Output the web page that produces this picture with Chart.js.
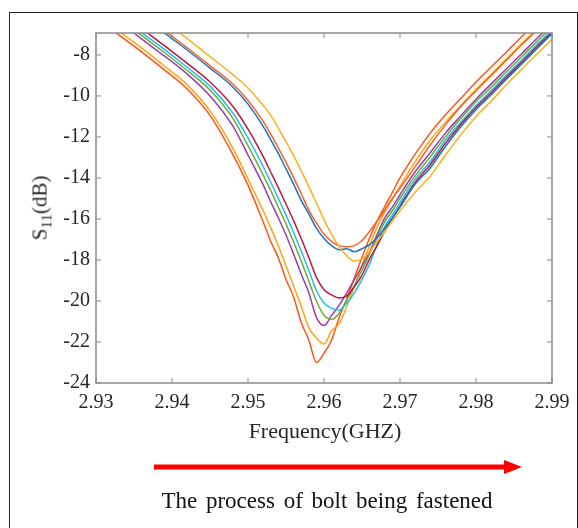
<!DOCTYPE html>
<html>
<head>
<meta charset="utf-8">
<script src="https://cdn.jsdelivr.net/npm/chart.js@4.4.0/dist/chart.umd.min.js"></script>
<style>
  body { margin:0; background:#fff; overflow:hidden; }
  #wrap { position:relative; width:578px; height:528px; overflow:hidden; }
  #frame { position:absolute; left:9px; top:12px; width:567px; height:560px; border:1px solid #222; }
  #chartCanvas { position:absolute; left:0; top:0; }
  .serif { position:absolute; white-space:nowrap; font-family:"Liberation Serif","Times New Roman",serif; color:#262626; }
  #ytitle { left:40px; top:208px; font-size:21px; line-height:21px; transform:translate(-50%,-50%) rotate(-90deg); }
  #ytitle sub { font-size:15px; vertical-align:-5px; line-height:0; }
  #xtitle { left:325px; top:420px; font-size:22px; line-height:22px; transform:translateX(-50%); }
  #caption { left:327px; top:489px; font-size:23px; line-height:23px; word-spacing:3px; color:#111; transform:translateX(-50%); }
  #arrow { position:absolute; left:0; top:0; }
</style>
</head>
<body>
<div id="wrap">
  <div id="frame"></div>
  <canvas id="chartCanvas" width="578" height="528"></canvas>
  <div id="ytitle" class="serif">S<sub>11</sub>(dB)</div>
  <div id="xtitle" class="serif">Frequency(GHZ)</div>
  <svg id="arrow" width="578" height="528">
    <line x1="154" y1="467" x2="507" y2="467" stroke="#ff0000" stroke-width="5"/>
    <polygon points="504,460 522,467 504,474" fill="#ff0000"/>
  </svg>
  <div id="caption" class="serif">The process of bolt being fastened</div>
</div>
<script>
// frekvenser (GHz) - tættere punkter omkring resonansen
const freq = [2.930, 2.933, 2.936, 2.939, 2.942, 2.945, 2.948, 2.950,
  2.952, 2.953, 2.954, 2.955, 2.956, 2.957, 2.958, 2.959, 2.960, 2.961, 2.962,
  2.963, 2.964, 2.965, 2.966, 2.967, 2.968, 2.969, 2.970,
  2.972, 2.974, 2.976, 2.978, 2.980, 2.982, 2.984, 2.986, 2.988, 2.990, 2.992]

const xTicks = [2.93, 2.94, 2.95, 2.96, 2.97, 2.98, 2.99]
const yTicks = [-24, -22, -20, -18, -16, -14, -12, -10, -8]

// S11 (dB) for hver måling
const shallowYellow = [-3.55, -4.5, -5.45, -6.35, -7.2, -8.08, -8.96, -9.61,
  -10.47, -10.95, -11.58, -12.24, -12.9, -13.66, -14.42, -15.22, -16.03, -16.75, -17.35,
  -17.8, -18.05, -17.95, -17.6, -17.1, -16.6, -16.1, -15.6,
  -14.7, -13.9, -12.88, -11.9, -11.0, -10.25, -9.45, -8.7, -7.97, -7.24, -6.55]
const shallowOrange = [-4.0, -4.98, -5.88, -6.81, -7.65, -8.52, -9.42, -10.22,
  -11.24, -11.88, -12.54, -13.24, -13.98, -14.77, -15.57, -16.2, -16.75, -17.1, -17.3,
  -17.35, -17.3, -17.05, -16.6, -16.1, -15.55, -15.0, -14.5,
  -13.45, -12.38, -11.4, -10.52, -9.75, -9.0, -8.25, -7.5, -6.8, -6.1, -5.4]
const blue = [-4.15, -5.1, -6.0, -6.93, -7.76, -8.64, -9.56, -10.4,
  -11.48, -12.14, -12.81, -13.55, -14.3, -15.09, -15.75, -16.45, -16.95, -17.3, -17.5,
  -17.45, -17.6, -17.45, -17.25, -16.9, -16.45, -15.95, -15.42,
  -14.3, -13.5, -12.45, -11.5, -10.67, -9.94, -9.18, -8.45, -7.7, -6.96, -6.25]
const crimson = [-4.85, -5.77, -6.7, -7.55, -8.41, -9.32, -10.5, -11.62,
  -12.96, -13.72, -14.48, -15.27, -16.08, -16.95, -17.88, -18.85, -19.45, -19.7, -19.85,
  -19.75, -19.3, -18.75, -17.95, -17.3, -16.58, -15.97, -15.37,
  -14.22, -13.34, -12.3, -11.38, -10.56, -9.84, -9.08, -8.35, -7.6, -6.9, -6.2]
const cyan = [-5.05, -5.97, -6.9, -7.73, -8.6, -9.52, -10.83, -12.05,
  -13.44, -14.22, -15.0, -15.81, -16.66, -17.56, -18.5, -19.49, -20.1, -20.35, -20.45,
  -20.1, -19.6, -18.95, -18.2, -17.22, -16.36, -15.8, -15.2,
  -14.07, -13.2, -12.15, -11.28, -10.47, -9.73, -8.98, -8.25, -7.5, -6.8, -6.1]
const green = [-5.2, -6.13, -7.05, -7.88, -8.76, -9.71, -11.09, -12.42,
  -13.86, -14.62, -15.43, -16.24, -17.12, -18.05, -19.03, -20.0, -20.7, -20.9, -20.6,
  -19.95, -19.25, -18.5, -17.7, -16.9, -16.13, -15.6, -15.0,
  -13.9, -12.96, -11.98, -11.1, -10.28, -9.57, -8.82, -8.09, -7.35, -6.66, -5.95]
const purple = [-5.3, -6.3, -7.22, -8.05, -8.93, -10.0, -11.46, -12.88,
  -14.34, -15.17, -15.95, -16.78, -17.71, -18.68, -19.6, -20.8, -21.2, -20.7, -20.2,
  -19.6, -18.95, -18.3, -17.6, -16.75, -15.95, -15.42, -14.82,
  -13.7, -12.76, -11.8, -10.97, -10.16, -9.41, -8.67, -7.94, -7.2, -6.5, -5.8]
const deepYellow = [-5.85, -6.83, -7.66, -8.54, -9.46, -10.73, -12.54, -14.05,
  -15.6, -16.44, -17.32, -18.29, -19.27, -20.24, -21.3, -21.8, -22.1, -21.45, -21.1,
  -20.27, -19.3, -18.27, -17.3, -16.4, -15.65, -15.03, -14.4,
  -13.2, -12.15, -11.27, -10.47, -9.69, -8.94, -8.2, -7.45, -6.75, -6.05, -5.37]
const deepOrange = [-6.1, -7.02, -7.85, -8.73, -9.66, -10.95, -12.85, -14.35,
  -16.15, -17.1, -17.9, -18.95, -19.8, -21.05, -21.9, -23.0, -22.55, -21.9, -20.8,
  -19.9, -18.87, -17.87, -16.93, -16.09, -15.38, -14.7, -14.0,
  -12.84, -11.8, -10.92, -10.12, -9.32, -8.59, -7.86, -7.11, -6.42, -5.73, -5.05]

const series = [
  {vals: shallowYellow, color: "#ffae1c"},
  {vals: shallowOrange, color: "#ff5f24"},
  {vals: blue, color: "#1476c0"},
  {vals: crimson, color: "#c2173c"},
  {vals: cyan, color: "#22bdf0"},
  {vals: green, color: "#6aad36"},
  {vals: purple, color: "#9a3cb0"},
  {vals: deepYellow, color: "#ffa412"},
  {vals: deepOrange, color: "#ff5418"},
]

// tegner boks rundt om plottet + ticks der peger indad (som i matlab)
const axisBox = {
  id: "axisBox",
  afterDatasetsDraw(chart) {
    const {ctx, chartArea: a, scales} = chart
    ctx.save()
    ctx.strokeStyle = "#8a8a8a"
    ctx.lineWidth = 1.5
    ctx.strokeRect(a.left, a.top, a.right - a.left, a.bottom - a.top)
    ctx.beginPath()
    xTicks.forEach(v => {
      const px = scales.x.getPixelForValue(v)
      ctx.moveTo(px, a.bottom); ctx.lineTo(px, a.bottom - 5)
      ctx.moveTo(px, a.top); ctx.lineTo(px, a.top + 5)
    })
    yTicks.forEach(v => {
      const py = scales.y.getPixelForValue(v)
      ctx.moveTo(a.left, py); ctx.lineTo(a.left + 5, py)
      ctx.moveTo(a.right, py); ctx.lineTo(a.right - 5, py)
    })
    ctx.lineWidth = 1
    ctx.stroke()
    ctx.restore()
  }
}

const tickFont = {family: "Liberation Serif", size: 20}

const ctx = document.getElementById("chartCanvas")
new Chart(ctx, {
  type: "scatter",
  data: {
    datasets: series.map(s => ({
      data: freq.map((f, i) => ({x: f, y: s.vals[i]})),
      borderColor: s.color,
      showLine: true,
      pointRadius: 0,
      borderWidth: 1.5,
      cubicInterpolationMode: "monotone",
    }))
  },
  options: {
    responsive: false,
    animation: false,
    layout: {padding: {top: 33, right: 26, left: 0, bottom: 0}},
    plugins: {legend: {display: false}, tooltip: {enabled: false}},
    scales: {
      x: {
        type: "linear", min: 2.93, max: 2.99,
        grid: {display: false, drawTicks: false}, border: {display: false},
        afterBuildTicks: s => { s.ticks = xTicks.map(v => ({value: v})) },
        afterFit: s => { s.height = 145 },
        ticks: {padding: 8, color: "#262626", font: tickFont, maxRotation: 0, autoSkip: false,
          callback: v => v.toFixed(2)}
      },
      y: {
        type: "linear", min: -24, max: -6.93,
        grid: {display: false, drawTicks: false}, border: {display: false},
        afterBuildTicks: s => { s.ticks = yTicks.map(v => ({value: v})) },
        afterFit: s => { s.width = 96 },
        ticks: {padding: 6, color: "#262626", font: tickFont, autoSkip: false,
          callback: v => String(v)}
      }
    }
  },
  plugins: [axisBox]
})
</script>
</body>
</html>
